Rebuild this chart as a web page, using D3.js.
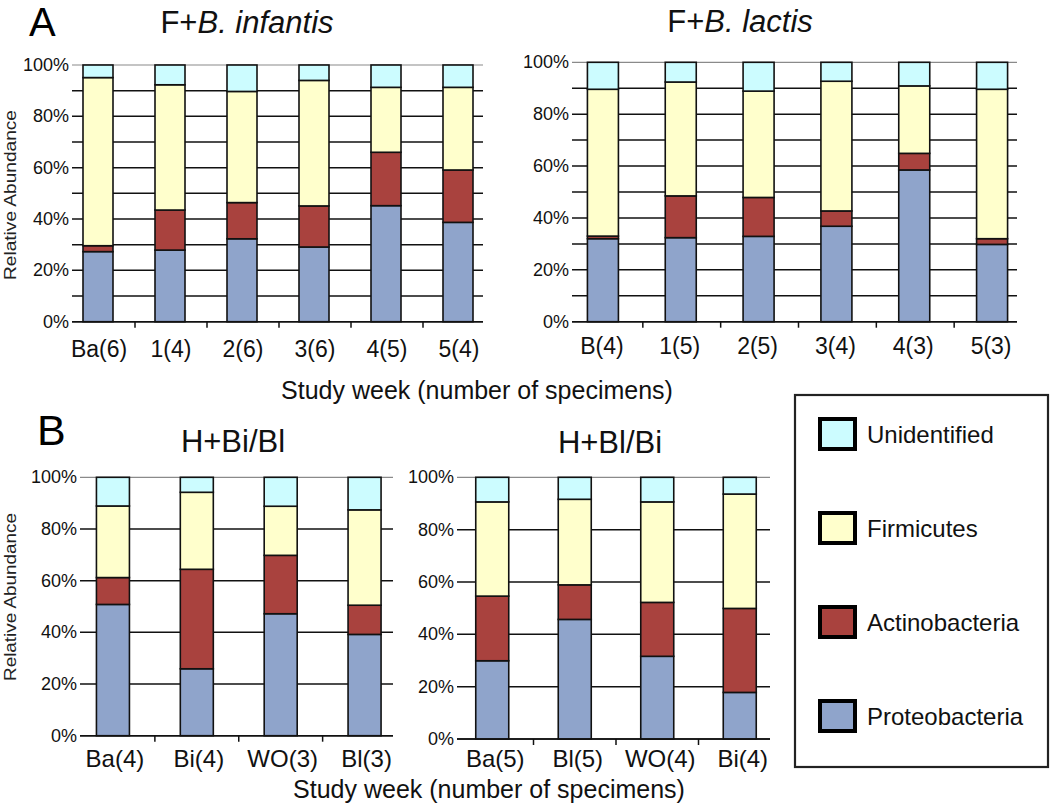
<!DOCTYPE html>
<html>
<head>
<meta charset="utf-8">
<script src="https://cdn.jsdelivr.net/npm/d3@7"></script>
<style>
  html, body { margin: 0; padding: 0; background: #fff; }
  svg { display: block; font-family: "Liberation Sans", Arial, sans-serif; }
</style>
</head>
<body>
<svg id="chart" width="1050" height="807"></svg>
<script>
// ---------------- DATA ----------------
const seriesKeys = ["Proteobacteria", "Actinobacteria", "Firmicutes", "Unidentified"];
const legendOrder = ["Unidentified", "Firmicutes", "Actinobacteria", "Proteobacteria"];
const seriesColors = ["#8fa4cb", "#a9423e", "#ffffcc", "#ccfcff"];

const yTickValues = [0, 20, 40, 60, 80, 100];

// Panel A, left: F+B. infantis
const catsA1 = ["Ba(6)", "1(4)", "2(6)", "3(6)", "4(5)", "5(4)"];
const proteoA1 = [27.3, 27.9, 32.3, 29.1, 45.2, 38.7];
const actinoA1 = [2.3, 15.6, 14.1, 16.0, 20.8, 20.4];
const firmA1 = [65.5, 48.8, 43.3, 48.9, 25.3, 32.2];
const unidA1 = [4.9, 7.7, 10.3, 6.0, 8.7, 8.7];

// Panel A, right: F+B. lactis
const catsA2 = ["B(4)", "1(5)", "2(5)", "3(4)", "4(3)", "5(3)"];
const proteoA2 = [32.0, 32.4, 32.9, 36.8, 58.5, 29.8];
const actinoA2 = [1.0, 16.1, 15.0, 5.9, 6.4, 2.2];
const firmA2 = [56.6, 43.9, 41.0, 50.0, 26.0, 57.6];
const unidA2 = [10.4, 7.6, 11.1, 7.3, 9.1, 10.4];

// Panel B, left: H+Bi/Bl
const catsB1 = ["Ba(4)", "Bi(4)", "WO(3)", "Bl(3)"];
const proteoB1 = [50.8, 25.9, 47.2, 39.2];
const actinoB1 = [10.4, 38.5, 22.6, 11.3];
const firmB1 = [27.7, 29.8, 19.0, 36.9];
const unidB1 = [11.1, 5.8, 11.2, 12.6];

// Panel B, right: H+Bl/Bi
const catsB2 = ["Ba(5)", "Bl(5)", "WO(4)", "Bi(4)"];
const proteoB2 = [29.9, 45.7, 31.6, 17.8];
const actinoB2 = [24.7, 13.2, 20.6, 32.1];
const firmB2 = [36.0, 32.7, 38.4, 43.7];
const unidB2 = [9.4, 8.4, 9.4, 6.4];

// ---------------- DRAW ----------------
const svg = d3.select("#chart");
const color = d3.scaleOrdinal().domain(seriesKeys).range(seriesColors);

function drawPanel(cfg, cats, proteo, actino, firm, unid) {
  const rows = cats.map((c, i) => ({
    cat: c,
    Proteobacteria: proteo[i],
    Actinobacteria: actino[i],
    Firmicutes: firm[i],
    Unidentified: unid[i]
  }));
  const stacked = d3.stack().keys(seriesKeys)(rows);

  const x = d3.scaleBand().domain(cats).range(cfg.band).paddingInner(0).paddingOuter(0);
  const y = d3.scaleLinear().domain([0, 100]).range([cfg.y0, cfg.y100]);

  const g = svg.append("g");

  // gridlines
  const gridVals = d3.range(0, 101, cfg.gridStep);
  g.selectAll("line.grid").data(gridVals).join("line")
    .attr("x1", cfg.plotX[0]).attr("x2", cfg.plotX[1])
    .attr("y1", d => y(d)).attr("y2", d => y(d))
    .attr("stroke", d => d === 100 ? "#8a8a8a" : "#111")
    .attr("stroke-width", d => d === 100 ? 1.2 : 1.5);

  // y tick labels
  g.selectAll("text.ytick").data(yTickValues).join("text")
    .attr("x", cfg.plotX[0] - 3)
    .attr("y", d => y(d) + 6)
    .attr("text-anchor", "end")
    .attr("font-size", 18)
    .attr("fill", "#111")
    .text(d => d + "%");

  // bars
  const bw = cfg.barW;
  g.selectAll("g.series").data(stacked).join("g")
    .attr("fill", d => color(d.key))
    .selectAll("rect").data(d => d).join("rect")
      .attr("x", d => x(d.data.cat) + x.bandwidth() / 2 - bw / 2 + cfg.barShift)
      .attr("width", bw)
      .attr("y", d => y(d[1]))
      .attr("height", d => y(d[0]) - y(d[1]))
      .attr("stroke", "#111")
      .attr("stroke-width", 1.6);

  // x axis baseline redraw
  g.append("line")
    .attr("x1", cfg.plotX[0]).attr("x2", cfg.plotX[1])
    .attr("y1", y(0)).attr("y2", y(0))
    .attr("stroke", "#111").attr("stroke-width", 1.6);

  // x ticks at category boundaries
  g.selectAll("line.xtick").data(cats.slice(1)).join("line")
    .attr("x1", d => x(d)).attr("x2", d => x(d))
    .attr("y1", y(0)).attr("y2", y(0) + 6)
    .attr("stroke", "#111").attr("stroke-width", 1.5);

  // x tick labels
  g.selectAll("text.xlab").data(cats).join("text")
    .attr("x", d => x(d) + x.bandwidth() / 2 + cfg.labelShift)
    .attr("y", cfg.labelY)
    .attr("text-anchor", "middle")
    .attr("font-size", cfg.labelSize)
    .attr("fill", "#111")
    .text(d => d);

  // y axis title
  if (cfg.yTitle) {
    g.append("text")
      .attr("transform", `translate(${cfg.yTitle.x},${cfg.yTitle.y}) rotate(-90)`)
      .attr("text-anchor", "middle")
      .attr("font-size", 17)
      .attr("textLength", cfg.yTitle.len)
      .attr("lengthAdjust", "spacingAndGlyphs")
      .attr("fill", "#222")
      .text("Relative Abundance");
  }

  // title
  const t = g.append("text")
    .attr("x", cfg.title.x).attr("y", cfg.title.y)
    .attr("text-anchor", "middle")
    .attr("font-size", 31)
    .attr("fill", "#111");
  cfg.title.parts.forEach(p => {
    t.append("tspan").attr("font-style", p.italic ? "italic" : "normal").text(p.text);
  });
}

drawPanel({
  plotX: [72, 483], band: [63, 495], y0: 321.7, y100: 65, gridStep: 10,
  barW: 30, barShift: -1, labelY: 357, labelSize: 23, labelShift: 0,
  yTitle: { x: 16, y: 195, len: 170 },
  title: { x: 247, y: 33, parts: [{ text: "F+" }, { text: "B. infantis", italic: true }] }
}, catsA1, proteoA1, actinoA1, firmA1, unidA1);

drawPanel({
  plotX: [572, 1017], band: [565, 1032], y0: 321.7, y100: 62.3, gridStep: 10,
  barW: 31, barShift: -1, labelY: 354, labelSize: 23, labelShift: -2,
  yTitle: null,
  title: { x: 740, y: 32, parts: [{ text: "F+" }, { text: "B. lactis", italic: true }] }
}, catsA2, proteoA2, actinoA2, firmA2, unidA2);

drawPanel({
  plotX: [80, 393], band: [71, 406.5], y0: 735.7, y100: 477.3, gridStep: 20,
  barW: 33, barShift: 0, labelY: 767, labelSize: 24, labelShift: 2,
  yTitle: { x: 16, y: 597, len: 168 },
  title: { x: 233, y: 452, parts: [{ text: "H+Bi/Bl" }] }
}, catsB1, proteoB1, actinoB1, firmB1, unidB1);

drawPanel({
  plotX: [457, 770], band: [451, 781], y0: 739, y100: 477.3, gridStep: 20,
  barW: 33, barShift: 0, labelY: 767, labelSize: 24, labelShift: 3,
  yTitle: null,
  title: { x: 610, y: 453, parts: [{ text: "H+Bl/Bi" }] }
}, catsB2, proteoB2, actinoB2, firmB2, unidB2);

// x axis titles
svg.append("text").attr("x", 477).attr("y", 399).attr("text-anchor", "middle")
  .attr("font-size", 25).attr("fill", "#111").text("Study week (number of specimens)");
svg.append("text").attr("x", 489).attr("y", 798).attr("text-anchor", "middle")
  .attr("font-size", 25).attr("fill", "#111").text("Study week (number of specimens)");

// panel letters
svg.append("text").attr("x", 29).attr("y", 36).attr("font-size", 40).attr("fill", "#000").text("A");
svg.append("text").attr("x", 37).attr("y", 445).attr("font-size", 43).attr("fill", "#000").text("B");

// legend
const legend = svg.append("g");
legend.append("rect").attr("x", 795).attr("y", 395).attr("width", 253).attr("height", 372)
  .attr("fill", "#fff").attr("stroke", "#222").attr("stroke-width", 2.2);
const ly = d3.scalePoint().domain(legendOrder).range([434, 716]);
const items = legend.selectAll("g.item").data(legendOrder).join("g")
  .attr("transform", d => `translate(0,${ly(d)})`);
items.append("rect").attr("x", 820).attr("y", -15).attr("width", 35).attr("height", 30)
  .attr("fill", d => color(d)).attr("stroke", "#000").attr("stroke-width", 4);
items.append("text").attr("x", 867).attr("y", 9).attr("font-size", 24).attr("fill", "#111")
  .text(d => d);
</script>
</body>
</html>
